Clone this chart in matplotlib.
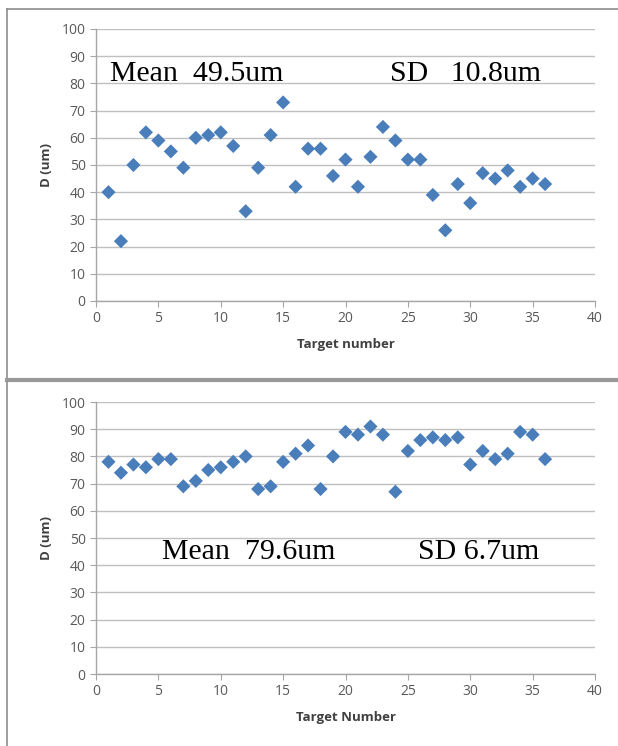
import matplotlib.pyplot as plt
from matplotlib.lines import Line2D

# target numbers and measured diameters (um)
targets = list(range(1, 37))
d_top = [40, 22, 50, 62, 59, 55, 49, 60, 61, 62, 57, 33, 49, 61, 73, 42, 56, 56,
         46, 52, 42, 53, 64, 59, 52, 52, 39, 26, 43, 36, 47, 45, 48, 42, 45, 43]
d_bottom = [78, 74, 77, 76, 79, 79, 69, 71, 75, 76, 78, 80, 68, 69, 78, 81, 84, 68,
            80, 89, 88, 91, 88, 67, 82, 86, 87, 86, 87, 77, 82, 79, 81, 89, 88, 79]
x_ticks = [0, 5, 10, 15, 20, 25, 30, 35, 40]
y_ticks = [0, 10, 20, 30, 40, 50, 60, 70, 80, 90, 100]
stats_top = ["Mean  49.5um", "SD   10.8um"]
stats_bottom = ["Mean  79.6um", "SD 6.7um"]

W, H = 618, 746
fig = plt.figure(figsize=(W / 100, H / 100), dpi=100)

def fx(px):
    return px / W

def fy(py):
    return 1 - py / H

# panel frames and separator
gray = '#8c8c8c'
fig.add_artist(Line2D([fx(7), fx(7)], [fy(9), fy(378)], color=gray, lw=1.2))
fig.add_artist(Line2D([fx(7), fx(618)], [fy(9), fy(9)], color=gray, lw=1.2))
fig.add_artist(Line2D([fx(7), fx(618)], [fy(380), fy(380)], color='#999999', lw=3))
fig.add_artist(Line2D([fx(7), fx(7)], [fy(382), fy(746)], color=gray, lw=1.2))

blue = '#4a7ebb'
tick_col = '#595959'


def draw_panel(ax, values, xlabel, stats, stat_pos):
    ax.scatter(targets, values, marker='D', s=52, color=blue, zorder=3,
               edgecolors='none')
    ax.set_xlim(0, 40)
    ax.set_ylim(0, 100)
    ax.set_xticks(x_ticks)
    ax.set_yticks(y_ticks)
    ax.grid(axis='y', color='#c0c0c0', lw=1.0)
    ax.set_axisbelow(True)
    for s in ['top', 'right']:
        ax.spines[s].set_visible(False)
    for s in ['left', 'bottom']:
        ax.spines[s].set_color('#a6a6a6')
        ax.spines[s].set_linewidth(1.0)
    ax.tick_params(axis='both', colors='#a6a6a6', labelcolor=tick_col,
                   labelsize=10, length=4, direction='out')
    for lab in ax.get_xticklabels() + ax.get_yticklabels():
        lab.set_family('Open Sans')
    ax.set_xlabel(xlabel, fontsize=9.5, fontweight='bold', color='#404040',
                  family='Open Sans', labelpad=8)
    ax.set_ylabel('D (um)', fontsize=9.5, fontweight='bold', color='#404040',
                  family='Open Sans', labelpad=6)
    for txt, (x, y) in zip(stats, stat_pos):
        ax.text(x, y, txt, fontsize=21.5, family='Liberation Serif',
                color='black', va='center', ha='left')


ax1 = fig.add_axes([fx(96), fy(301), fx(595) - fx(96), fy(29) - fy(301)])
draw_panel(ax1, d_top, 'Target number', stats_top, [(1.1, 83.5), (23.6, 83.5)])

ax2 = fig.add_axes([fx(96), fy(674), fx(595) - fx(96), fy(402) - fy(674)])
draw_panel(ax2, d_bottom, 'Target Number', stats_bottom, [(5.3, 45), (25.8, 45)])

fig.savefig('out.png', dpi=100)
